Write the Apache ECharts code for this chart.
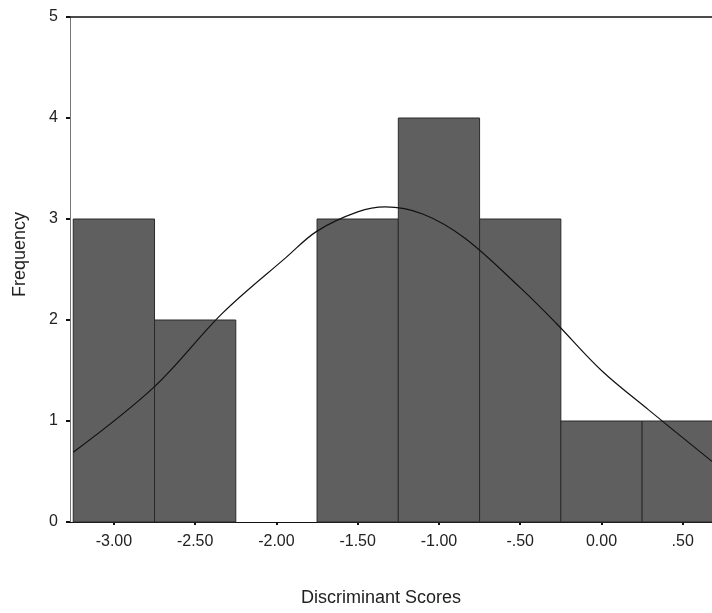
<!DOCTYPE html>
<html>
<head>
<meta charset="utf-8">
<script src="https://cdn.jsdelivr.net/npm/echarts@6/dist/echarts.min.js"></script>
<style>html,body{margin:0;padding:0;background:#fff}#c{width:712px;height:613px}</style>
</head>
<body>
<div id="c"></div>
<script>
// Histogram bins (lower edge, upper edge) and counts
const binStarts = [-3.25, -2.75, -2.25, -1.75, -1.25, -0.75, -0.25, 0.25];
const binEnds   = [-2.75, -2.25, -1.75, -1.25, -0.75, -0.25, 0.25, 0.75];
const counts    = [3, 2, 0, 3, 4, 3, 1, 1];

// Fitted normal curve
const curveX = [-3.25, -2.75, -2.33, -1.94, -1.75, -1.5, -1.33, -1.1, -0.84, -0.5, -0.28, 0.0, 0.29, 0.68];
const curveY = [0.69, 1.34, 2.07, 2.62, 2.88, 3.07, 3.12, 3.05, 2.81, 2.32, 1.97, 1.50, 1.11, 0.60];

// Tick positions and labels
const xTickValues = [-3.0, -2.5, -2.0, -1.5, -1.0, -0.5, 0.0, 0.5];
const xTickLabels = ['-3.00', '-2.50', '-2.00', '-1.50', '-1.00', '-.50', '0.00', '.50'];
const yTickLabels = ['0', '1', '2', '3', '4', '5'];

const chart = echarts.init(document.getElementById('c'));
const font = 'Liberation Sans, Arial, sans-serif';

const barData = binStarts.map((s, i) => [s, binEnds[i], counts[i]]);
const lineData = curveX.map((x, i) => [x, curveY[i]]);

chart.setOption({
  animation: false,
  backgroundColor: '#fff',
  grid: { left: 70, right: 0, top: 17, bottom: 91, containLabel: false },
  xAxis: [{
    type: 'value', min: -3.27, max: 0.68,
    axisLine: { show: true, onZero: false, lineStyle: { color: '#111', width: 1 } },
    axisTick: { show: true, length: 3, customValues: xTickValues, lineStyle: { color: '#111', width: 2 } },
    axisLabel: {
      customValues: xTickValues, margin: 12,
      formatter: v => { const i = xTickValues.findIndex(t => Math.abs(t - v) < 1e-6); return i >= 0 ? xTickLabels[i] : ''; },
      color: '#222', fontFamily: font, fontSize: 16
    },
    splitLine: { show: false }
  }, {
    type: 'value', position: 'top', min: -3.27, max: 0.68,
    axisLine: { show: true, onZero: false, lineStyle: { color: '#111', width: 1.5 } },
    axisTick: { show: false }, axisLabel: { show: false }, splitLine: { show: false }
  }],
  yAxis: {
    type: 'value', min: 0, max: 5, interval: 1,
    name: 'Frequency', nameLocation: 'middle', nameGap: 41,
    nameTextStyle: { fontFamily: font, fontSize: 18, color: '#222', padding: [0, 0, 0, 30] },
    axisLine: { show: true, onZero: false, lineStyle: { color: '#777', width: 1 } },
    axisTick: { show: true, length: 4, lineStyle: { color: '#111', width: 2 } },
    axisLabel: { margin: 12, color: '#222', fontFamily: font, fontSize: 16,
      formatter: v => yTickLabels[Math.round(v)] },
    splitLine: { show: false }
  },
  title: {
    text: 'Discriminant Scores', left: 376, top: 584, textAlign: 'center',
    textStyle: { fontFamily: font, fontSize: 18, fontWeight: 'normal', color: '#222' }
  },
  series: [{
    type: 'custom',
    xAxisIndex: 0,
    data: barData,
    renderItem: (params, api) => {
      const p0 = api.coord([api.value(0), 0]);
      const p1 = api.coord([api.value(1), api.value(2)]);
      if (api.value(2) <= 0) return null;
      return {
        type: 'rect',
        shape: { x: p0[0], y: p1[1], width: p1[0] - p0[0], height: p0[1] - p1[1] },
        style: { fill: '#5f5f5f', stroke: '#2a2a2a', lineWidth: 1 }
      };
    },
    encode: { x: [0, 1], y: 2 },
    z: 2
  }, {
    type: 'line',
    xAxisIndex: 0,
    data: lineData,
    smooth: 0.35,
    showSymbol: false,
    lineStyle: { color: '#111', width: 1.2 },
    z: 3
  }]
});
</script>
</body>
</html>
